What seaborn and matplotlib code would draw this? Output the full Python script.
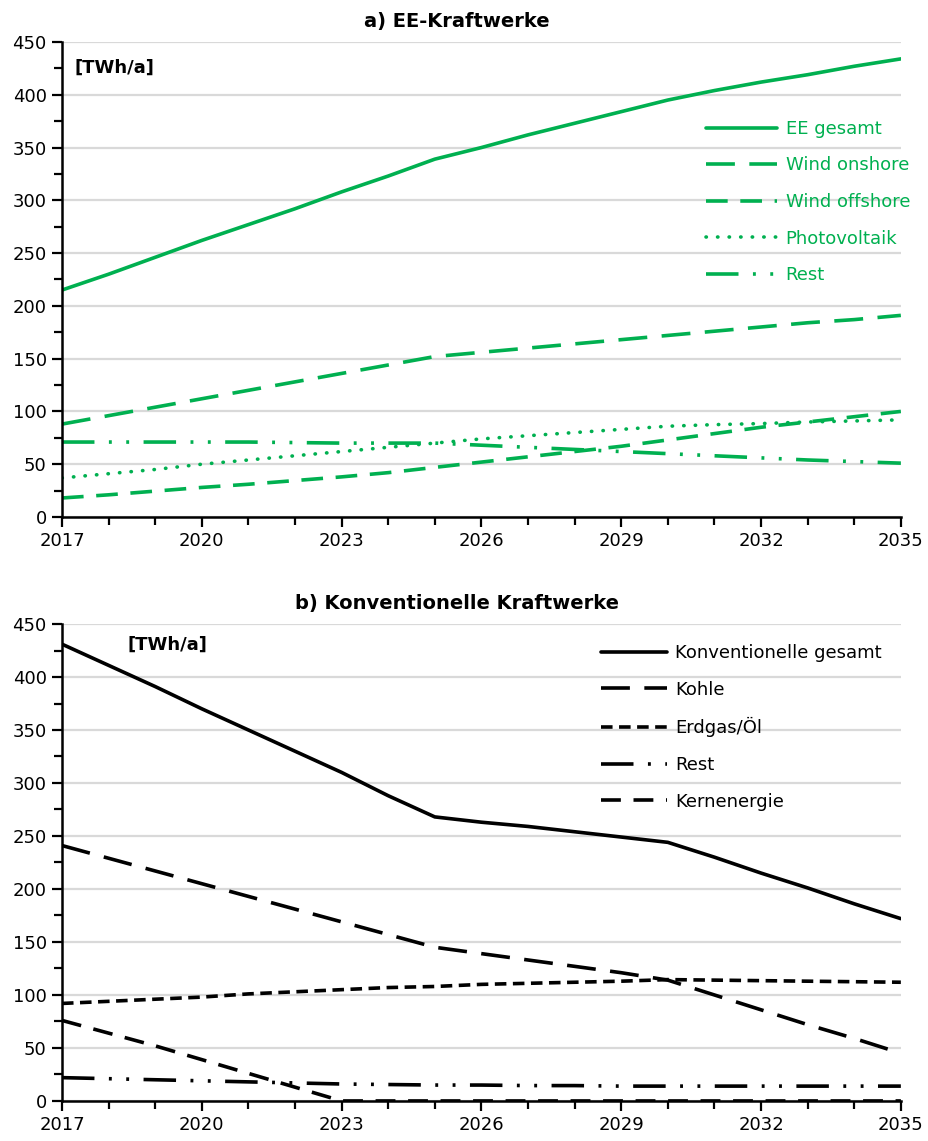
import numpy as np
import pandas as pd
import seaborn as sns
import matplotlib.pyplot as plt
from matplotlib.ticker import MultipleLocator

sns.set_style('ticks')
plt.rcParams['font.family'] = ['DejaVu Sans']
plt.rcParams['text.color'] = 'black'
plt.rcParams['xtick.color'] = 'black'
plt.rcParams['ytick.color'] = 'black'

years = list(range(2017, 2036))

# a) EE-Kraftwerke [TWh/a]
ee_gesamt = [215, 230, 246, 262, 277, 292, 308, 323, 339, 350, 362, 373, 384, 395, 404, 412, 419, 427, 434]
wind_onshore = [88, 96, 104, 112, 120, 128, 136, 144, 152, 156, 160, 164, 168, 172, 176, 180, 184, 187, 191]
wind_offshore = [18, 21, 24.5, 28, 31, 34.5, 38, 42, 47, 52, 57, 62, 67, 73, 79, 85, 90, 95, 100]
photovoltaik = [37, 41, 45, 50, 54, 58, 62, 66, 70, 74, 77, 80, 83, 86, 87.5, 88.5, 90, 91, 92]
ee_rest = [71, 71, 71, 71, 71, 70.5, 70, 70, 70, 68, 66, 64, 62, 60, 58, 56, 54, 52.5, 51]

# b) Konventionelle Kraftwerke [TWh/a]
konv_gesamt = [431, 411, 391, 370, 350, 330, 310, 288, 268, 263, 259, 254, 249, 244, 230, 215, 201, 186, 172]
kohle = [241, 229, 217, 205, 193, 181, 169, 157, 145, 139, 133, 127, 121, 114, 100, 86, 72, 59, 45]
erdgas_oel = [92, 94, 96, 98, 101, 103, 105, 107, 108, 110, 111, 112, 113, 114.5, 114, 113.5, 113, 112.5, 112]
konv_rest = [22, 21, 20, 19, 18, 17, 16, 15.5, 15, 15, 14.5, 14.5, 14, 14, 14, 14, 14, 14, 14]
kernenergie = [76, 64, 52, 39, 26, 13, 0, 0, 0, 0, 0, 0, 0, 0, 0, 0, 0, 0, 0]

green = '#00B050'
lw = 2.6

styles = {
    'solid': dict(linestyle='-'),
    'long': dict(linestyle=(0, (8, 4))),
    'dash': dict(linestyle=(0, (6, 3.5))),
    'dot': dict(linestyle=(0, (0.1, 3.1)), dash_capstyle='round'),
    'dashdotdot': dict(linestyle=(0, (9, 4, 0.8, 4, 0.8, 4))),
    'short': dict(linestyle=(0, (3.2, 1.8))),
    'kern': dict(linestyle=(0, (5.5, 3.5))),
}

fig = plt.figure(figsize=(9.29, 11.41), dpi=100)
ax1 = fig.add_axes([0.0667, 0.5469, 0.903, 0.4163])
ax2 = fig.add_axes([0.0667, 0.0351, 0.903, 0.418])

top_series = [
    ('EE gesamt', ee_gesamt, 'solid'),
    ('Wind onshore', wind_onshore, 'long'),
    ('Wind offshore', wind_offshore, 'dash'),
    ('Photovoltaik', photovoltaik, 'dot'),
    ('Rest', ee_rest, 'dashdotdot'),
]
bottom_series = [
    ('Konventionelle gesamt', konv_gesamt, 'solid'),
    ('Kohle', kohle, 'long'),
    ('Erdgas/Öl', erdgas_oel, 'short'),
    ('Rest', konv_rest, 'dashdotdot'),
    ('Kernenergie', kernenergie, 'kern'),
]


def draw(ax, series, color, title, unit_x, unit_y):
    df = pd.DataFrame({'Jahr': years})
    for name, vals, st in series:
        df[name] = vals
    for name, vals, st in series:
        sns.lineplot(data=df, x='Jahr', y=name, ax=ax, color=color, lw=lw,
                     label=name, zorder=3, **styles[st])
    ax.set_xlim(2017, 2035)
    ax.set_ylim(0, 450)
    ax.set_xticks(range(2017, 2036, 3))
    ax.xaxis.set_minor_locator(MultipleLocator(1))
    ax.yaxis.set_major_locator(MultipleLocator(50))
    ax.yaxis.set_minor_locator(MultipleLocator(25))
    ax.tick_params(axis='both', which='major', labelsize=13, length=7, width=1.6,
                   direction='out', colors='black', pad=4)
    ax.tick_params(axis='both', which='minor', length=6, width=1.6, direction='out')
    ax.grid(axis='y', which='major', color='#D9D9D9', lw=1.6, zorder=0)
    ax.set_axisbelow(True)
    for s in ['top', 'right']:
        ax.spines[s].set_visible(False)
    for s in ['left', 'bottom']:
        ax.spines[s].set_linewidth(1.8)
        ax.spines[s].set_color('black')
        ax.spines[s].set_zorder(4)
    ax.set_xlabel('')
    ax.set_ylabel('')
    ax.set_title(title, fontsize=14, fontweight='bold', pad=11, x=0.471, color='black')
    ax.text(unit_x, unit_y, '[TWh/a]', transform=ax.transAxes, fontsize=13,
            fontweight='bold', va='center', ha='left', color='black')


draw(ax1, top_series, green, 'a) EE-Kraftwerke', 0.015, 0.945)
draw(ax2, bottom_series, 'black', 'b) Konventionelle Kraftwerke', 0.078, 0.956)

ax1.legend(loc='upper left', bbox_to_anchor=(0.768, 0.836), frameon=False,
           fontsize=13, handlelength=3.9, handletextpad=0.5, labelspacing=1.03,
           borderpad=0, borderaxespad=0, labelcolor=green)
ax2.legend(loc='upper left', bbox_to_anchor=(0.642, 0.958), frameon=False,
           fontsize=13, handlelength=3.7, handletextpad=0.45, labelspacing=1.03,
           borderpad=0, borderaxespad=0, labelcolor='black')

plt.savefig('out.png', dpi=100)
